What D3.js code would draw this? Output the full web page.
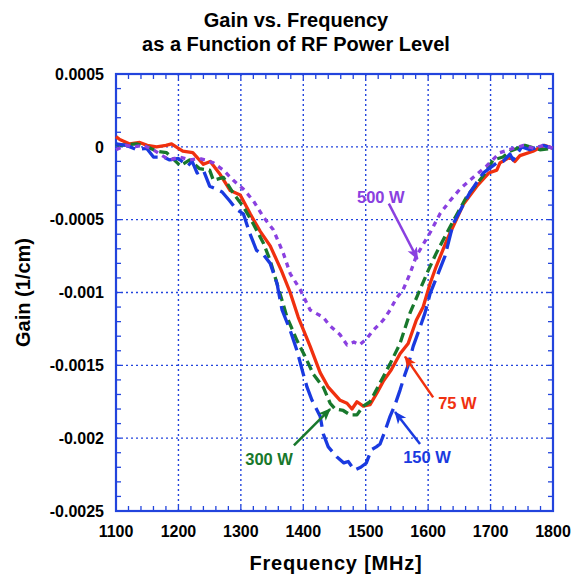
<!DOCTYPE html>
<html>
  <head>
    <meta charset="utf-8">
    <style>
      body { margin: 0; background: #fff; }
      svg text { font-family: "Liberation Sans", Arial, sans-serif; font-weight: bold; }
    </style>
  </head>
  <body>
    <script src="https://d3js.org/d3.v7.min.js"></script>
    <script>
      // 75 W (red, solid)
      const freq75 = [1100,1106,1122,1138,1150,1165,1180,1189,1200,1207,1223,1240,1251,1267,1283,1299,1315,1331,1347,1365,1379,1392,1411,1427,1440,1459,1470,1478,1486,1496,1507,1518,1528,1541,1555,1568,1581,1592,1603,1613,1630,1657,1678,1697,1710,1715,1731,1739,1747,1768,1786,1800];
      const gain75 = [0.00007,0.00005,0.00002,0.00003,0.00001,0,0.00001,0.00002,-0.00001,-0.00003,-0.00004,-0.00012,-0.0001,-0.00019,-0.0003,-0.00033,-0.00046,-0.00058,-0.00068,-0.00085,-0.001,-0.00117,-0.00137,-0.00155,-0.00165,-0.00174,-0.00176,-0.0018,-0.00175,-0.00178,-0.00177,-0.00169,-0.00161,-0.00153,-0.00142,-0.00135,-0.00119,-0.0011,-0.00094,-0.00082,-0.00064,-0.00039,-0.00027,-0.00018,-0.00016,-0.00011,-0.00007,-0.0001,-0.00006,-0.00003,0.00001,-0.00001];

      // 150 W (blue, long dashes)
      const freq150 = [1100,1117,1133,1149,1160,1176,1186,1200,1215,1222,1230,1240,1250,1261,1270,1282,1293,1304,1314,1325,1336,1347,1358,1366,1379,1390,1400,1406,1414,1427,1432,1440,1454,1465,1472,1482,1492,1501,1509,1517,1523,1531,1539,1547,1555,1563,1568,1576,1587,1595,1603,1616,1627,1640,1666,1688,1710,1720,1731,1736,1750,1763,1784,1800];
      const gain150 = [0.00002,0.00001,-0.00002,-0.00001,-0.00007,-0.00007,-0.00009,-0.00008,-0.00013,-0.0001,-0.00018,-0.00016,-0.00027,-0.00029,-0.00031,-0.00037,-0.00043,-0.00046,-0.00059,-0.00071,-0.00074,-0.0008,-0.00094,-0.00112,-0.00126,-0.0014,-0.00156,-0.00165,-0.00174,-0.00185,-0.00197,-0.00206,-0.00213,-0.00217,-0.00216,-0.00222,-0.0022,-0.00217,-0.00208,-0.00206,-0.00204,-0.00195,-0.00185,-0.00177,-0.00167,-0.00156,-0.0015,-0.00137,-0.00124,-0.00114,-0.00101,-0.00087,-0.00075,-0.00053,-0.00032,-0.00018,-0.00011,-0.0001,-0.00005,-0.00009,0,-0.00002,0.00001,-0.00001];

      // 300 W (green, dashes)
      const freq300 = [1100,1106,1133,1150,1165,1181,1203,1218,1234,1250,1256,1272,1288,1304,1320,1336,1347,1358,1374,1390,1403,1416,1432,1443,1451,1464,1475,1486,1496,1507,1523,1539,1555,1571,1584,1600,1613,1635,1662,1688,1704,1720,1731,1755,1779,1800];
      const gain300 = [0.00002,0.00001,0.00002,0,-0.00003,-0.00004,-0.00013,-0.00009,-0.00015,-0.00016,-0.00023,-0.00021,-0.00032,-0.00041,-0.00053,-0.00066,-0.00078,-0.00094,-0.00117,-0.00133,-0.00144,-0.00156,-0.00165,-0.00176,-0.0018,-0.00181,-0.00184,-0.00184,-0.00178,-0.00175,-0.00162,-0.00149,-0.00135,-0.00114,-0.00101,-0.00085,-0.00073,-0.00055,-0.00034,-0.0002,-0.00009,-0.00007,-0.00003,0.00001,-0.00002,-0.00001];

      // 500 W (purple, dotted)
      const freq500 = [1100,1116,1128,1144,1160,1174,1186,1202,1218,1234,1243,1256,1272,1288,1304,1320,1336,1352,1368,1379,1395,1411,1432,1443,1459,1470,1481,1490,1501,1512,1528,1539,1549,1560,1571,1581,1603,1619,1635,1651,1672,1694,1715,1737,1753,1769,1785,1800];
      const gain500 = [-0.00002,0.00001,0,0.00001,-0.00002,-0.00006,-0.00009,-0.00007,-0.00009,-0.00008,-0.00009,-0.00011,-0.00016,-0.00023,-0.00029,-0.00037,-0.00048,-0.00057,-0.00073,-0.00087,-0.00098,-0.00112,-0.00117,-0.00123,-0.00129,-0.00136,-0.00134,-0.00136,-0.00132,-0.00126,-0.00119,-0.00112,-0.00104,-0.00098,-0.00087,-0.00075,-0.00059,-0.00046,-0.00037,-0.00029,-0.00021,-0.00013,-0.00004,-0.00001,0.00001,-0.00001,0.00001,-0.00001];

      const xTicks = [1100,1200,1300,1400,1500,1600,1700,1800];
      const yTicks = [0.0005,0,-0.0005,-0.001,-0.0015,-0.002,-0.0025];
      const yTickLabels = ['0.0005','0','-0.0005','-0.001','-0.0015','-0.002','-0.0025'];

      // annotation: label, text anchor point, arrow start, arrow tip
      const labels = ['500 W','75 W','150 W','300 W'];
      const labelAt = [[1486,-0.000386],[1616,-0.0018],[1560,-0.00217],[1307,-0.002185]];
      const arrowFrom = [[1537,-0.00039],[1608,-0.00172],[1587,-0.00204],[1385,-0.00205]];
      const arrowTo = [[1583,-0.00077],[1563,-0.00144],[1547,-0.00182],[1443,-0.0018]];

      const series = [
        { x: freq75, y: gain75, color: '#f0300f', dash: null },
        { x: freq300, y: gain300, color: '#18782c', dash: '10,5' },
        { x: freq150, y: gain150, color: '#1a3ae0', dash: '20,7' },
        { x: freq500, y: gain500, color: '#8a40e0', dash: '5,5' }
      ];
      const labelColors = ['#8a40e0','#f0300f','#1a3ae0','#18782c'];

      const axisColor = '#2244dd';
      const margin = { top: 74, right: 21, bottom: 64, left: 116 };
      const width = 437, height = 437;

      const svg = d3.select('body').append('svg')
        .attr('width', 574)
        .attr('height', 575);

      const x = d3.scaleLinear().domain([1100, 1800]).range([0, width]);
      const y = d3.scaleLinear().domain([-0.0025, 0.0005]).range([height, 0]);

      const g = svg.append('g').attr('transform', `translate(${margin.left},${margin.top})`);

      // dotted grid
      g.append('g').selectAll('line').data(xTicks.slice(1, -1)).join('line')
        .attr('x1', d => x(d)).attr('x2', d => x(d))
        .attr('y1', 0).attr('y2', height)
        .attr('stroke', axisColor).attr('stroke-width', 1.4).attr('stroke-dasharray', '2,3');
      g.append('g').selectAll('line').data(yTicks.slice(1, -1)).join('line')
        .attr('x1', 0).attr('x2', width)
        .attr('y1', d => y(d)).attr('y2', d => y(d))
        .attr('stroke', axisColor).attr('stroke-width', 1.4).attr('stroke-dasharray', '2,3');

      // minor ticks, inward on all sides
      const xMinor = d3.range(1100, 1801, 20);
      const yMinor = d3.range(-25, 6, 1).map(v => v * 0.0001);
      const tl = 5;
      const ticks = g.append('g').attr('stroke', axisColor).attr('stroke-width', 1.3);
      ticks.selectAll('.xb').data(xMinor).join('line')
        .attr('x1', d => x(d)).attr('x2', d => x(d)).attr('y1', height).attr('y2', height - tl);
      ticks.selectAll('.xt').data(xMinor).join('line')
        .attr('x1', d => x(d)).attr('x2', d => x(d)).attr('y1', 0).attr('y2', tl);
      ticks.selectAll('.yl').data(yMinor).join('line')
        .attr('x1', 0).attr('x2', tl).attr('y1', d => y(d)).attr('y2', d => y(d));
      ticks.selectAll('.yr').data(yMinor).join('line')
        .attr('x1', width).attr('x2', width - tl).attr('y1', d => y(d)).attr('y2', d => y(d));

      // frame
      g.append('rect')
        .attr('width', width).attr('height', height)
        .attr('fill', 'none').attr('stroke', axisColor).attr('stroke-width', 2.2);

      // tick labels
      g.append('g').selectAll('text').data(xTicks).join('text')
        .attr('x', d => x(d)).attr('y', height + 26)
        .attr('text-anchor', 'middle').attr('font-size', 16).attr('fill', '#000')
        .text(d => d);
      g.append('g').selectAll('text').data(yTicks).join('text')
        .attr('x', -12).attr('y', d => y(d)).attr('dy', '0.36em')
        .attr('text-anchor', 'end').attr('font-size', 16).attr('fill', '#000')
        .text((d, i) => yTickLabels[i]);

      // curves
      const line = d3.line().x(d => x(d[0])).y(d => y(d[1]));
      const plot = g.append('g');
      series.forEach(s => {
        plot.append('path')
          .datum(d3.zip(s.x, s.y))
          .attr('d', line)
          .attr('fill', 'none')
          .attr('stroke', s.color)
          .attr('stroke-width', 3.3)
          .attr('stroke-linejoin', 'round')
          .attr('stroke-dasharray', s.dash);
      });

      // arrows
      const defs = svg.append('defs');
      labelColors.forEach((c, i) => {
        defs.append('marker')
          .attr('id', 'arr' + i)
          .attr('viewBox', '0 0 12 10')
          .attr('refX', 11).attr('refY', 5)
          .attr('markerWidth', 5).attr('markerHeight', 5)
          .attr('markerUnits', 'strokeWidth')
          .attr('orient', 'auto')
          .append('path')
          .attr('d', 'M0,0 L12,5 L0,10 L3,5 Z')
          .attr('fill', c);
      });
      labels.forEach((t, i) => {
        g.append('line')
          .attr('x1', x(arrowFrom[i][0])).attr('y1', y(arrowFrom[i][1]))
          .attr('x2', x(arrowTo[i][0])).attr('y2', y(arrowTo[i][1]))
          .attr('stroke', labelColors[i]).attr('stroke-width', 2.5)
          .attr('marker-end', `url(#arr${i})`);
        g.append('text')
          .attr('x', x(labelAt[i][0])).attr('y', y(labelAt[i][1]))
          .attr('font-size', 16.5).attr('fill', labelColors[i])
          .text(t);
      });

      // titles
      svg.append('text').attr('x', 296).attr('y', 27)
        .attr('text-anchor', 'middle').attr('font-size', 20).text('Gain vs. Frequency');
      svg.append('text').attr('x', 296).attr('y', 51)
        .attr('text-anchor', 'middle').attr('font-size', 20).text('as a Function of RF Power Level');
      svg.append('text').attr('x', 336).attr('y', 570)
        .attr('text-anchor', 'middle').attr('font-size', 20).attr('letter-spacing', 0.8)
        .text('Frequency [MHz]');
      svg.append('text')
        .attr('transform', `translate(30,${margin.top + height / 2}) rotate(-90)`)
        .attr('text-anchor', 'middle').attr('font-size', 20)
        .text('Gain (1/cm)');
    </script>
  </body>
</html>
